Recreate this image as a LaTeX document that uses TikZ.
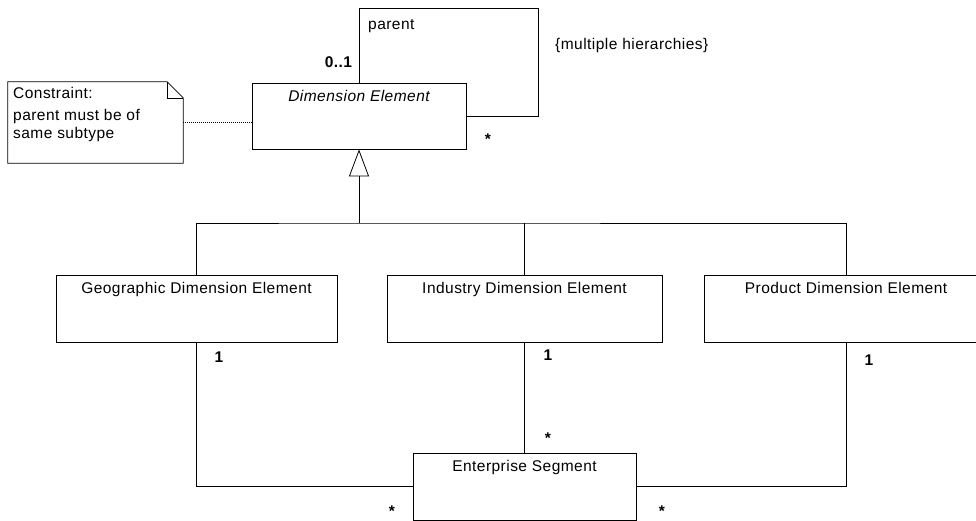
\documentclass[tikz,border=0pt]{standalone}
\usepackage{fontspec}
\setmainfont{Liberation Sans}[LetterSpace=3]
\usetikzlibrary{arrows.meta, positioning, calc}
\newcommand{\umlfont}{\fontsize{15.5}{18}\selectfont}
\tikzset{
    classbox/.style={draw, line width=0.8pt, minimum height=67pt, inner sep=0pt},
    classname/.style={inner sep=0pt, font=\umlfont},
    mult/.style={inner sep=0pt, font=\umlfont\bfseries},
    assoc/.style={line width=0.8pt},
    inherit/.style={line width=0.8pt, -{Triangle[open, length=27pt, width=20pt]}},
    notelink/.style={line width=0.8pt, dash pattern=on 1pt off 1pt}
}

\begin{document}
\begin{tikzpicture}[x=1pt, y=-1pt]
    \clip (0,0) rectangle (976,521);
    % Superclass
    \node[classbox, minimum width=214pt, minimum height=66pt] (dim) at (359,116) {};
    \node[classname, font=\umlfont\itshape, below=7.5pt of dim.north] (dimname) {Dimension Element};
    % Subclasses
    \node[classbox, minimum width=281pt] (geo) at (196.5,308.5) {};
    \node[classname, below=7.5pt of geo.north] (geoname) {Geographic Dimension Element};
    \node[classbox, minimum width=275pt] (ind) at (524.5,308.5) {};
    \node[classname, below=7.5pt of ind.north] (indname) {Industry Dimension Element};
    \node[classbox, minimum width=284pt] (prod) at (846,308.5) {};
    \node[classname, below=7.5pt of prod.north] (prodname) {Product Dimension Element};
    % Segment
    \node[classbox, minimum width=223pt] (ent) at (524.5,486.5) {};
    \node[classname, below=7.5pt of ent.north] (entname) {Enterprise Segment};
    % Note
    \node[minimum width=175pt, minimum height=81pt, inner sep=0pt] (note) at (95.5,122.5) {};
    \draw[assoc] (note.north west) -- ($(note.north east)+(-16,0)$) -- ($(note.north east)+(0,16)$)
        -- (note.south east) -- (note.south west) -- cycle;
    \draw[thin] ($(note.north east)+(-16,0)$) |- ($(note.north east)+(0,16)$);
    \node[classname, align=left, anchor=north west] (notetext) at (13,87)
        {Constraint:\\[4pt]parent must be of\\same subtype};
    \draw[notelink] (note.east) -- (note.east -| dim.west);
    % Generalization
    \coordinate (bus) at (359,223);
    \draw[assoc] (geo.north) |- (bus) -| (prod.north);
    \draw[assoc] (ind.north) -- (ind.north |- bus);
    \draw[inherit] (bus) -- (dim.south);
    % Self association
    \coordinate (loop) at (538,8);
    \draw[assoc] (dim.north) |- (loop) |- (dim.east);
    \node[classname, anchor=base west] (parent) at (368,30) {parent};
    \node[mult] (m01) at (338.5,62) {0..1};
    \node[mult] (mdim) at (488,139) {*};
    \node[classname, anchor=west] (hier) at (555,45) {\{multiple hierarchies\}};
    % Associations
    \draw[assoc] (geo.south) |- (ent.west);
    \draw[assoc] (ind.south) -- (ent.north);
    \draw[assoc] (prod.south) |- (ent.east);
    \node[mult] (mgeo) at (219,357) {1};
    \node[mult] (mind) at (548,355) {1};
    \node[mult] (mprod) at (869,360) {1};
    \node[mult] (mentind) at (548,438) {*};
    \node[mult] (mentgeo) at (392,511) {*};
    \node[mult] (mentprod) at (662,511) {*};
\end{tikzpicture}
\end{document}
